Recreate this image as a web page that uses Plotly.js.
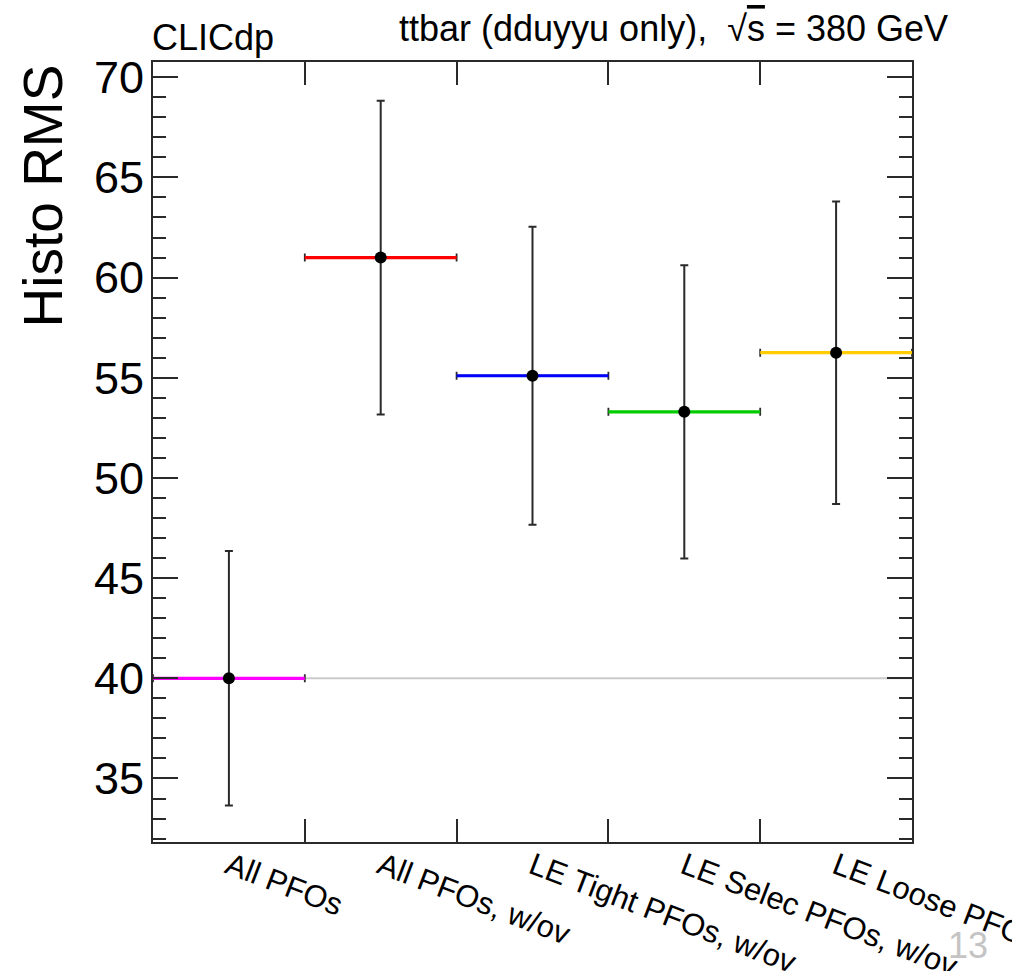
<!DOCTYPE html>
<html>
<head>
<meta charset="utf-8">
<script src="https://cdn.plot.ly/plotly-3.0.1.min.js"></script>
<style>
html,body{margin:0;padding:0;background:#fff;}
#plot{width:1012px;height:971px;}
</style>
</head>
<body>
<div id="plot"></div>
<script>
// ---- data ----
const categories = ["All PFOs", "All PFOs, w/ov", "LE Tight PFOs, w/ov", "LE Selec PFOs, w/ov", "LE Loose PFOs, w/ov"];
const binCenters = [0.5, 1.5, 2.5, 3.5, 4.5];
const rmsValues = [40.0, 61.0, 55.1, 53.3, 56.25];
const rmsErrors = [6.35, 7.83, 7.44, 7.32, 7.55];
const binHalfWidth = [0.5, 0.5, 0.5, 0.5, 0.5];
const seriesColors = ["#ff00ff", "#ff0000", "#0000ff", "#00cc00", "#ffcc00"];
const yTickVals = [35, 40, 45, 50, 55, 60, 65, 70];

const FONT = "Liberation Sans, Arial, Helvetica, sans-serif";
const DARK = "#2a2a2a";

const traces = [];
// dark end caps of the horizontal bin lines
traces.push({
  type: "scatter", mode: "markers", x: binCenters, y: rmsValues,
  marker: {size: 1, color: "rgba(0,0,0,0)"},
  error_x: {type: "data", array: binHalfWidth, visible: true, color: DARK, thickness: 1.8, width: 4},
  hoverinfo: "skip", showlegend: false
});
// colored horizontal bin lines
categories.forEach((c, i) => {
  traces.push({
    type: "scatter", mode: "markers", x: [binCenters[i]], y: [rmsValues[i]],
    marker: {size: 1, color: "rgba(0,0,0,0)"},
    error_x: {type: "data", array: [binHalfWidth[i]], visible: true, color: seriesColors[i], thickness: 3.2, width: 0},
    name: c, showlegend: false
  });
});
// black points with vertical error bars
traces.push({
  type: "scatter", mode: "markers", x: binCenters, y: rmsValues,
  marker: {size: 12, color: "#000000"},
  error_y: {type: "data", array: rmsErrors, visible: true, color: DARK, thickness: 2, width: 4},
  showlegend: false
});

const layout = {
  width: 1012, height: 971,
  margin: {l: 153, r: 100, t: 62, b: 129},
  paper_bgcolor: "#ffffff", plot_bgcolor: "#ffffff",
  showlegend: false,
  font: {family: FONT, color: "#000000"},
  xaxis: {
    range: [0, 5], showgrid: false, zeroline: false,
    showline: true, linecolor: DARK, linewidth: 2, mirror: "ticks",
    tickmode: "array", tickvals: binCenters, ticktext: categories,
    ticks: "inside", ticklen: 1, tickcolor: "rgba(0,0,0,0)",
    tickangle: 21, tickfont: {size: 31, family: FONT, color: "#000"},
    ticklabeloverflow: "allow", ticklabelstandoff: -8,
    minor: {tick0: 0, dtick: 1, ticks: "inside", ticklen: 23, tickcolor: DARK, tickwidth: 2, showgrid: false}
  },
  yaxis: {
    range: [31.83, 70.76], showgrid: false, zeroline: false,
    showline: true, linecolor: DARK, linewidth: 2, mirror: "ticks",
    tickmode: "array", tickvals: yTickVals,
    ticks: "inside", ticklen: 25, tickwidth: 2, tickcolor: DARK,
    tickfont: {size: 45, family: FONT, color: "#000"},
    ticklabelstandoff: -2,
    minor: {tick0: 0, dtick: 1, ticks: "inside", ticklen: 13, tickcolor: DARK, tickwidth: 2, showgrid: false}
  },
  shapes: [{
    type: "line", xref: "x", yref: "y", x0: 0, x1: 5, y0: rmsValues[0], y1: rmsValues[0],
    line: {color: "#cccccc", width: 2}, layer: "below"
  }],
  annotations: [
    {text: "Histo RMS", textangle: -90, xref: "paper", yref: "paper", x: -0.145, y: 1.0,
     xanchor: "center", yanchor: "top", showarrow: false, font: {size: 55, family: FONT, color: "#000"}},
    {text: "CLICdp", xref: "paper", yref: "paper", x: 0, y: 1.0, xanchor: "left", yanchor: "bottom",
     showarrow: false, font: {size: 36, family: FONT, color: "#000"}, xshift: -3, yshift: 2},
    {text: "ttbar (dduyyu only),  √<span style=\"text-decoration:overline\">s</span> = 380 GeV", xref: "paper", yref: "paper",
     x: 1.0, y: 1.0, xanchor: "right", yanchor: "bottom", showarrow: false,
     font: {size: 36, family: FONT, color: "#000"}, xshift: 38, yshift: 11},
    {text: "13", xref: "paper", yref: "paper", x: 1.0738, y: -0.1333, xanchor: "center", yanchor: "middle",
     showarrow: false, font: {size: 36, family: FONT, color: "#c4c4c4"}}
  ]
};

Plotly.newPlot("plot", traces, layout, {staticPlot: true, displayModeBar: false});
</script>
</body>
</html>
